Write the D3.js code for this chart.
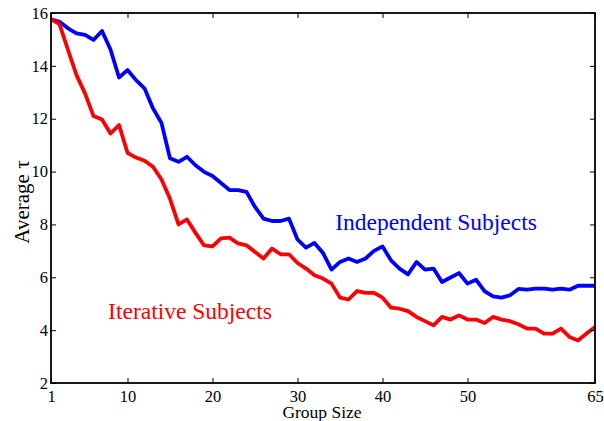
<!DOCTYPE html>
<html>
<head>
<meta charset="utf-8">
<script src="https://cdn.jsdelivr.net/npm/d3@7"></script>
<style>
body { margin: 0; background: #fff; }
text { font-family: "Liberation Serif", "Times New Roman", serif; }
</style>
</head>
<body>
<svg id="chart" width="604" height="421"></svg>
<script>
var svg = d3.select("svg"),
	width = +svg.attr("width"),
	height = +svg.attr("height");

//data, group size 1..65
var groupSize = d3.range(1, 66);

var independent = [15.76, 15.67, 15.42, 15.23, 15.17, 14.98, 15.32, 14.62, 13.56, 13.84,
	13.46, 13.15, 12.39, 11.84, 10.50, 10.37, 10.56, 10.24, 9.99, 9.83,
	9.57, 9.30, 9.30, 9.23, 8.66, 8.22, 8.13, 8.13, 8.22, 7.43,
	7.12, 7.30, 6.92, 6.29, 6.58, 6.71, 6.58, 6.71, 7.00, 7.17,
	6.64, 6.33, 6.11, 6.58, 6.29, 6.33, 5.82, 5.99, 6.16, 5.76,
	5.91, 5.48, 5.28, 5.23, 5.32, 5.56, 5.53, 5.57, 5.57, 5.53,
	5.57, 5.53, 5.68, 5.68, 5.68];

var iterative = [15.76, 15.58, 14.60, 13.65, 12.96, 12.10, 11.97, 11.44, 11.76, 10.71,
	10.53, 10.41, 10.18, 9.70, 8.97, 8.00, 8.19, 7.68, 7.21, 7.17,
	7.47, 7.50, 7.28, 7.21, 6.96, 6.71, 7.09, 6.87, 6.87, 6.54,
	6.33, 6.08, 5.95, 5.76, 5.23, 5.16, 5.48, 5.41, 5.41, 5.23,
	4.85, 4.81, 4.72, 4.50, 4.34, 4.18, 4.50, 4.40, 4.56, 4.40,
	4.40, 4.27, 4.50, 4.40, 4.34, 4.22, 4.06, 4.06, 3.87, 3.87,
	4.06, 3.74, 3.61, 3.87, 4.12];

var xTicks = [1, 10, 20, 30, 40, 50, 65];
var yTicks = [2, 4, 6, 8, 10, 12, 14, 16];

var series = [
	{ name: "Independent Subjects", values: independent, color: "#0000ff", lx: 436, ly: 230 },
	{ name: "Iterative Subjects", values: iterative, color: "#ff0000", lx: 190, ly: 319 }
];

//plot box (window.top is reserved, so prefix the names)
var boxLeft = 51, boxRight = 595, boxTop = 13, boxBottom = 383;

var x = d3.scaleLinear().domain([1, 65]).range([boxLeft, boxRight]);
var y = d3.scaleLinear().domain([2, 16]).range([boxBottom, boxTop]);

var g = svg.append("g");

//lines
var line = d3.line()
	.x(function (d, i) { return x(groupSize[i]); })
	.y(function (d) { return y(d); });

g.selectAll(".series")
	.data(series)
	.enter().append("path")
	.attr("class", "series")
	.attr("d", function (d) { return line(d.values); })
	.attr("fill", "none")
	.attr("stroke", function (d) { return d.color; })
	.attr("stroke-width", 3.8)
	.attr("stroke-linejoin", "round");

//axes, ticks pointing inwards
var axisStyle = function (sel) {
	sel.select(".domain").remove();
	sel.selectAll("line").attr("stroke", "#000").attr("stroke-width", 1);
	sel.selectAll("text")
		.style("font-family", "'Liberation Serif', 'Times New Roman', serif")
		.style("font-size", "16.5px")
		.attr("fill", "#000");
};

g.append("g")
	.attr("transform", "translate(0," + boxBottom + ")")
	.call(d3.axisBottom(x).tickValues(xTicks).tickFormat(d3.format("d")).tickSizeInner(-5).tickPadding(7))
	.call(axisStyle);

g.append("g")
	.attr("transform", "translate(0," + boxTop + ")")
	.call(d3.axisTop(x).tickValues(xTicks).tickFormat("").tickSizeInner(-5))
	.call(axisStyle);

g.append("g")
	.attr("transform", "translate(" + boxLeft + ",0)")
	.call(d3.axisLeft(y).tickValues(yTicks).tickFormat(d3.format("d")).tickSizeInner(-5).tickPadding(3))
	.call(axisStyle);

g.append("g")
	.attr("transform", "translate(" + boxRight + ",0)")
	.call(d3.axisRight(y).tickValues(yTicks).tickFormat("").tickSizeInner(-5))
	.call(axisStyle);

//frame
g.append("rect")
	.attr("x", boxLeft)
	.attr("y", boxTop)
	.attr("width", boxRight - boxLeft)
	.attr("height", boxBottom - boxTop)
	.attr("fill", "none")
	.attr("stroke", "#000")
	.attr("stroke-width", 1.8);

//series labels
g.selectAll(".label")
	.data(series)
	.enter().append("text")
	.attr("class", "label")
	.attr("x", function (d) { return d.lx; })
	.attr("y", function (d) { return d.ly; })
	.attr("text-anchor", "middle")
	.attr("fill", function (d) { return d.color; })
	.style("font-size", "23.5px")
	.text(function (d) { return d.name; });

//axis titles
g.append("text")
	.attr("x", 322)
	.attr("y", 418)
	.attr("text-anchor", "middle")
	.style("font-size", "17.5px")
	.text("Group Size");

g.append("text")
	.attr("transform", "translate(29,202) rotate(-90)")
	.attr("text-anchor", "middle")
	.style("font-size", "21px")
	.text("Average \u03c4");
</script>
</body>
</html>
